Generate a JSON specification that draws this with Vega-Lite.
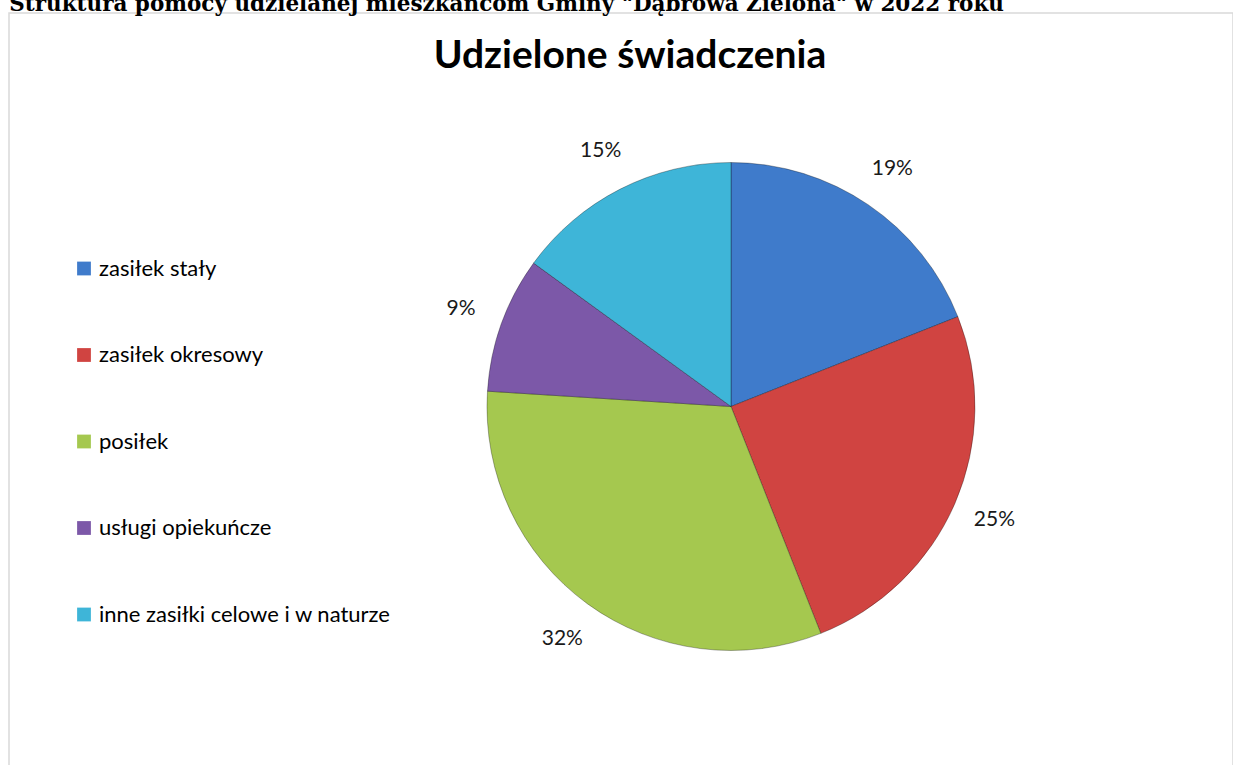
{
  "$schema": "https://vega.github.io/schema/vega-lite/v6.json",
  "autosize": {"type": "pad"},
  "padding": {"left": 8, "top": -7, "right": 0, "bottom": 0},
  "background": "white",
  "title": {
    "text": "Struktura pomocy udzielanej mieszkańcom Gminy \"Dąbrowa Zielona\" w 2022 roku",
    "anchor": "start",
    "frame": "bounds",
    "font": "DejaVu Serif",
    "fontSize": 21.5,
    "fontWeight": "bold",
    "color": "black",
    "offset": -3,
    "dx": 1
  },
  "spacing": 0,
  "vconcat": [
    {
      "width": 1224,
      "height": 753,
      "view": {"stroke": "#d9d9d9", "strokeWidth": 1.5, "fill": "white"},
      "title": {
        "text": "Udzielone świadczenia",
        "anchor": "middle",
        "frame": "group",
        "font": "Lato",
        "fontSize": 39,
        "fontWeight": "bold",
        "color": "black",
        "offset": -63,
        "dx": 9
      },
      "data": {
        "values": [
          {"nr": 1, "kategoria": "zasiłek stały", "udzial": 19, "etykieta": "19%"},
          {"nr": 2, "kategoria": "zasiłek okresowy", "udzial": 25, "etykieta": "25%"},
          {"nr": 3, "kategoria": "posiłek", "udzial": 32, "etykieta": "32%"},
          {"nr": 4, "kategoria": "usługi opiekuńcze", "udzial": 9, "etykieta": "9%"},
          {"nr": 5, "kategoria": "inne zasiłki celowe i w naturze", "udzial": 15, "etykieta": "15%"}
        ]
      },
      "encoding": {
        "theta": {"field": "udzial", "type": "quantitative", "stack": true},
        "order": {"field": "nr", "type": "quantitative"}
      },
      "layer": [
        {
          "mark": {"type": "arc", "outerRadius": 244, "xOffset": 110, "yOffset": 17, "stroke": "#000000", "strokeOpacity": 0.3, "strokeWidth": 1},
          "encoding": {
            "color": {
              "field": "kategoria",
              "type": "nominal",
              "scale": {
                "domain": ["zasiłek stały", "zasiłek okresowy", "posiłek", "usługi opiekuńcze", "inne zasiłki celowe i w naturze"],
                "range": ["#3F7BCB", "#D04441", "#A5C84F", "#7C58A8", "#3EB5D8"]
              },
              "legend": {
                "orient": "none",
                "legendX": 64,
                "legendY": 244.5,
                "title": null,
                "symbolType": "square",
                "symbolSize": 190,
                "symbolStrokeWidth": 0,
                "labelFont": "Lato",
                "labelFontSize": 22,
                "labelColor": "black",
                "labelOffset": 4,
                "rowPadding": 64.5,
                "labelLimit": 400
              }
            }
          }
        },
        {
          "mark": {"type": "text", "radius": 287, "xOffset": 110, "yOffset": 17, "font": "Lato", "fontSize": 21, "color": "#1a1a1a"},
          "encoding": {"text": {"field": "etykieta", "type": "nominal"}}
        }
      ]
    }
  ],
  "config": {
    "view": {"stroke": "#d9d9d9", "strokeWidth": 1.5}
  }
}
